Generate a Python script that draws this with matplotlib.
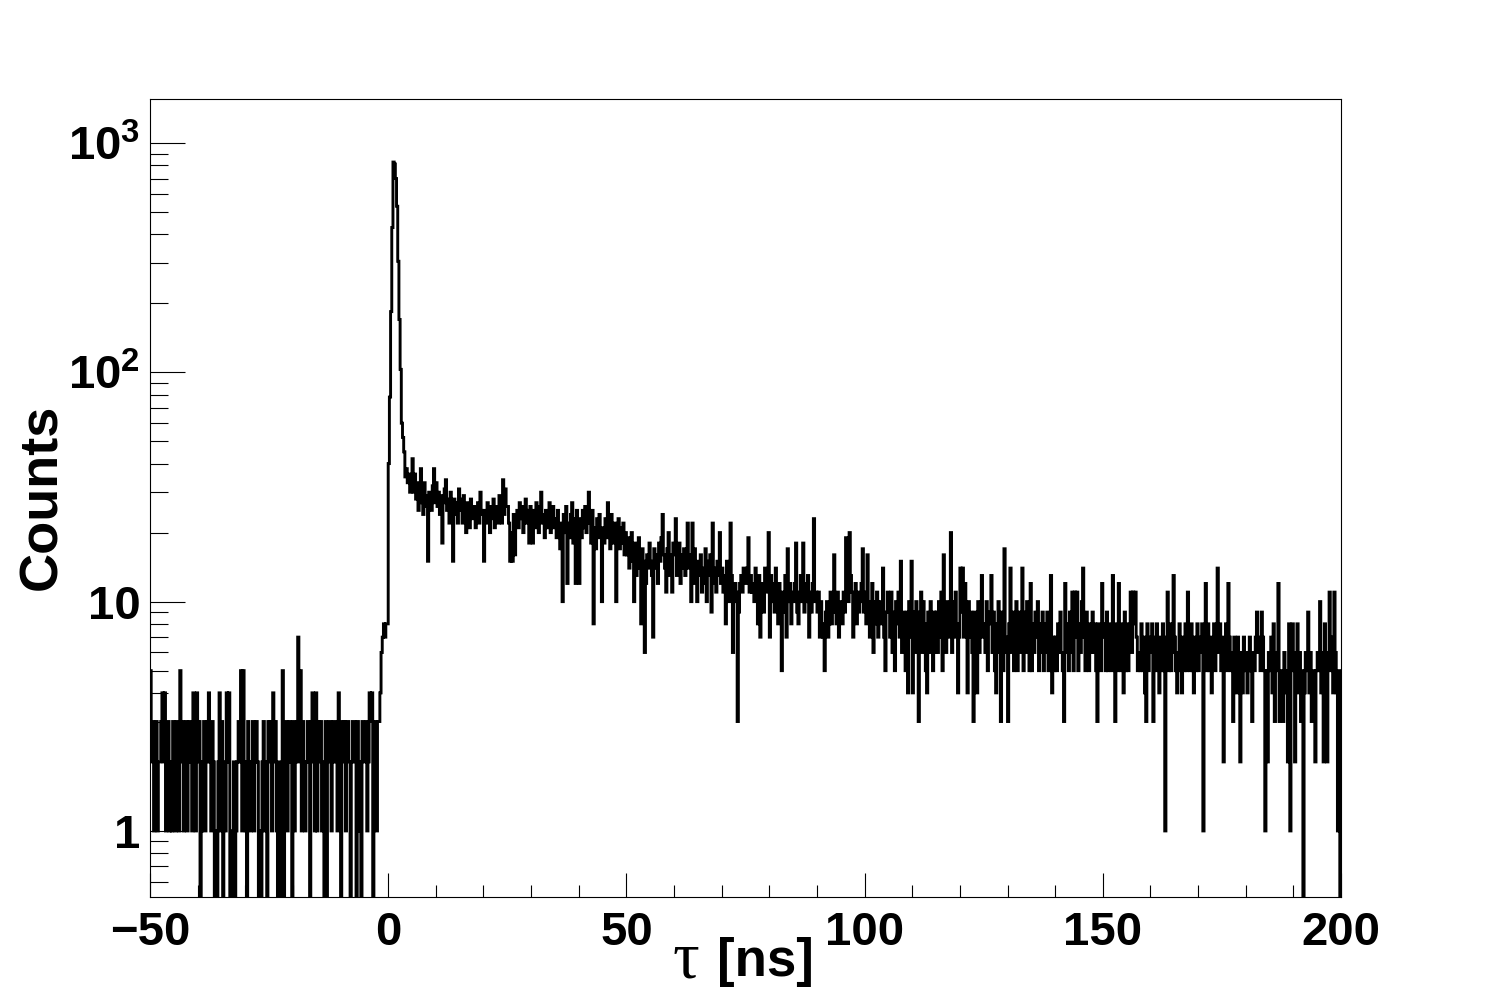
# lifetime spectrum, ROOT-style log histogram
import numpy as np
import matplotlib
matplotlib.use("Agg")
import matplotlib.pyplot as plt
from matplotlib.ticker import LogLocator, MultipleLocator, FixedLocator, FixedFormatter, NullFormatter

plt.rcParams['font.family'] = ['Liberation Sans', 'DejaVu Sans']
plt.rcParams['font.weight'] = 'bold'
plt.rcParams['mathtext.fontset'] = 'custom'
plt.rcParams['mathtext.rm'] = 'Liberation Sans'
plt.rcParams['mathtext.bf'] = 'Liberation Sans:bold'

# histogram range and binning (0.25 ns bins)
x_min, x_max, n_bins = -50, 200, 1000

# counts per bin, 5 ns per row
counts_bg = [  # -50 .. 0 ns
    5, 2, 3, 1, 2, 3, 1, 2, 2, 3, 4, 2, 4, 1, 2, 3, 1, 2, 1, 3,
    2, 1, 3, 2, 1, 5, 2, 3, 1, 2, 3, 1, 2, 3, 2, 1, 4, 2, 1, 4,
    2, 3, 0, 1, 2, 3, 1, 2, 3, 4, 2, 1, 3, 2, 0, 1, 0, 2, 4, 1,
    3, 0, 2, 1, 4, 2, 4, 0, 1, 0, 2, 0, 1, 2, 3, 2, 5, 1, 5, 2,
    1, 0, 3, 2, 1, 2, 3, 1, 2, 3, 2, 0, 1, 0, 2, 3, 1, 2, 0, 3,
    2, 3, 1, 4, 2, 3, 1, 0, 2, 0, 1, 5, 0, 2, 3, 1, 2, 3, 2, 0,
    3, 1, 2, 3, 7, 2, 5, 1, 3, 2, 1, 2, 3, 2, 0, 3, 4, 2, 1, 4,
    1, 3, 2, 3, 1, 2, 0, 3, 0, 2, 3, 3, 1, 2, 3, 3, 2, 1, 4, 2,
    0, 3, 2, 3, 1, 3, 3, 2, 0, 2, 3, 3, 2, 0, 3, 1, 2, 0, 3, 2,
    2, 3, 1, 2, 4, 3, 4, 0, 2, 3, 1, 3, 3, 4, 6, 7, 8, 7, 8, 8,
]
counts_0_50 = [
    40, 78, 184, 428, 826, 810, 700, 530, 305, 170, 103, 60, 52, 45, 35, 38, 33, 36, 30, 34,
    42, 30, 36, 28, 33, 25, 31, 38, 27, 24, 33, 29, 26, 15, 30, 28, 25, 32, 38, 27,
    33, 26, 30, 24, 29, 18, 27, 31, 34, 25, 28, 22, 30, 26, 15, 28, 24, 27, 22, 31,
    28, 25, 22, 29, 26, 20, 27, 24, 21, 28, 25, 23, 26, 21, 24, 27, 22, 30, 25, 24,
    15, 25, 22, 27, 24, 20, 26, 23, 28, 21, 24, 26, 22, 29, 25, 22, 34, 24, 31, 26,
    26, 22, 15, 20, 15, 24, 16, 22, 25, 21, 27, 23, 26, 20, 24, 28, 22, 25, 18, 26,
    22, 18, 25, 21, 27, 23, 20, 26, 30, 22, 24, 19, 25, 21, 23, 27, 20, 24, 26, 21,
    23, 19, 25, 21, 17, 22, 10, 24, 20, 26, 12, 22, 19, 24, 27, 18, 23, 12, 25, 21,
    12, 23, 19, 25, 21, 26, 20, 24, 30, 22, 18, 25, 8, 21, 17, 23, 19, 24, 20, 10,
    21, 18, 23, 19, 27, 22, 17, 24, 20, 18, 22, 10, 19, 23, 17, 21, 18, 22, 16, 20,
]
counts_50_100 = [
    16, 19, 14, 17, 20, 15, 10, 18, 13, 16, 19, 14, 8, 17, 15, 6, 12, 16, 14, 18,
    15, 13, 7, 17, 14, 16, 12, 18, 15, 19, 24, 16, 14, 11, 17, 20, 13, 16, 11, 18,
    16, 23, 13, 15, 18, 12, 16, 14, 17, 13, 15, 22, 14, 16, 10, 22, 12, 17, 14, 10,
    15, 13, 16, 11, 14, 12, 17, 10, 15, 13, 16, 9, 22, 12, 14, 11, 15, 13, 20, 12,
    14, 11, 13, 8, 15, 12, 10, 22, 13, 6, 10, 12, 11, 3, 9, 12, 13, 11, 14, 12,
    12, 14, 19, 11, 13, 11, 12, 10, 14, 11, 8, 13, 7, 10, 12, 9, 14, 11, 13, 20,
    7, 13, 10, 12, 9, 14, 11, 8, 12, 10, 5, 11, 9, 13, 7, 17, 10, 12, 8, 11,
    10, 12, 18, 9, 8, 11, 13, 10, 18, 9, 12, 10, 13, 7, 11, 9, 12, 23, 10, 11,
    9, 11, 7, 10, 8, 7, 5, 9, 10, 7, 8, 11, 8, 10, 16, 9, 8, 11, 7, 10,
    10, 8, 11, 9, 19, 12, 10, 20, 13, 11, 7, 10, 12, 8, 11, 9, 10, 12, 17, 9,
]
counts_100_150 = [
    11, 8, 16, 10, 7, 9, 12, 6, 10, 8, 11, 7, 10, 8, 9, 14, 7, 5, 9, 11,
    9, 7, 11, 6, 9, 5, 10, 8, 11, 7, 15, 6, 9, 8, 5, 9, 4, 10, 7, 15,
    4, 9, 6, 10, 7, 3, 9, 11, 6, 10, 8, 5, 4, 9, 6, 10, 7, 5, 9, 6,
    9, 6, 10, 7, 11, 5, 16, 8, 6, 10, 7, 9, 20, 6, 10, 7, 11, 8, 4, 7,
    14, 9, 14, 7, 12, 8, 4, 10, 7, 9, 6, 3, 9, 7, 4, 10, 6, 8, 13, 7,
    8, 6, 10, 5, 8, 9, 13, 6, 9, 5, 4, 8, 10, 6, 3, 9, 5, 17, 7, 6,
    3, 8, 14, 6, 9, 5, 8, 10, 5, 9, 6, 8, 14, 5, 9, 6, 10, 7, 5, 12,
    5, 8, 6, 9, 7, 10, 5, 8, 6, 9, 5, 8, 6, 9, 5, 8, 13, 4, 7, 5,
    7, 5, 8, 6, 9, 6, 5, 3, 12, 6, 8, 5, 9, 6, 11, 5, 11, 7, 11, 5,
    8, 6, 10, 14, 7, 5, 9, 6, 5, 8, 6, 9, 6, 8, 5, 3, 8, 6, 5, 12,
]
counts_150_200 = [
    7, 8, 5, 9, 5, 8, 6, 5, 13, 6, 3, 8, 5, 12, 7, 5, 8, 4, 9, 5,
    8, 5, 7, 11, 6, 11, 8, 11, 7, 5, 6, 5, 8, 5, 7, 4, 3, 8, 5, 7,
    6, 8, 3, 7, 5, 8, 6, 4, 7, 5, 8, 5, 1, 7, 11, 5, 8, 5, 6, 13,
    7, 5, 4, 6, 8, 5, 4, 7, 5, 8, 5, 11, 6, 5, 8, 5, 4, 7, 5, 8,
    5, 7, 6, 8, 1, 6, 12, 5, 8, 5, 7, 4, 6, 8, 5, 7, 14, 6, 8, 5,
    7, 2, 6, 8, 5, 12, 7, 5, 6, 3, 7, 5, 4, 7, 5, 2, 6, 4, 7, 5,
    6, 4, 5, 7, 5, 3, 6, 5, 7, 9, 6, 7, 5, 9, 7, 5, 1, 5, 2, 6,
    5, 7, 4, 8, 3, 5, 6, 12, 3, 5, 4, 3, 6, 5, 4, 2, 8, 1, 5, 8,
    6, 2, 5, 8, 4, 6, 3, 5, 0, 4, 6, 5, 9, 4, 6, 3, 5, 4, 2, 5,
    6, 5, 10, 4, 6, 2, 8, 5, 2, 6, 11, 5, 7, 4, 11, 6, 4, 1, 5, 0,
]

x_ticks = [-50, 0, 50, 100, 150, 200]
y_ticks = [1, 10, 100, 1000]
y_tick_labels = ['1', '10', r'$\mathbf{10}^{\mathrm{2}}$', r'$\mathbf{10}^{\mathrm{3}}$']

counts = np.array(counts_bg + counts_0_50 + counts_50_100 + counts_100_150 + counts_150_200, dtype=float)
edges = np.linspace(x_min, x_max, n_bins + 1)

fig = plt.figure(figsize=(14.92, 9.99), dpi=100)
ax = fig.add_axes([150 / 1492, 102 / 999, 1191 / 1492, 798 / 999])

# zero bins drop below the axis like in ROOT
ax.stairs(counts, edges, baseline=None, color='black', lw=2.1)

ax.set_yscale('log')
ax.set_xlim(x_min, x_max)
ax.set_ylim(0.515, 1556)

ax.xaxis.set_major_locator(FixedLocator(x_ticks))
ax.xaxis.set_minor_locator(MultipleLocator(10))
ax.yaxis.set_major_locator(FixedLocator(y_ticks))
ax.yaxis.set_major_formatter(FixedFormatter(y_tick_labels))
ax.yaxis.set_minor_locator(LogLocator(base=10, subs=range(2, 10)))
ax.yaxis.set_minor_formatter(NullFormatter())

ax.tick_params(axis='x', which='major', direction='in', length=17, width=0.8, pad=10, labelsize=34)
ax.tick_params(axis='x', which='minor', direction='in', length=8.5, width=0.8)
ax.tick_params(axis='y', which='major', direction='in', length=25, width=0.8, pad=7, labelsize=34)
ax.tick_params(axis='y', which='minor', direction='in', length=13, width=0.8)
ax.tick_params(top=False, right=False, which='both')
for s in ax.spines.values():
    s.set_linewidth(0.8)

for lab in ax.get_xticklabels() + ax.get_yticklabels():
    lab.set_fontweight('bold')

# axis titles
fig.text(42 / 1492, 1 - 497 / 999, 'Counts', rotation=90, fontsize=39, fontweight='bold',
         ha='center', va='center')
fig.text(673 / 1492, 1 - 977 / 999, 'τ', fontsize=48, family=['Liberation Serif', 'DejaVu Serif'],
         fontweight='normal', ha='left', va='baseline')
fig.text(717 / 1492, 1 - 976 / 999, '[ns]', fontsize=38, fontweight='bold', ha='left', va='baseline')

fig.savefig('out.png', dpi=100, facecolor='white')
